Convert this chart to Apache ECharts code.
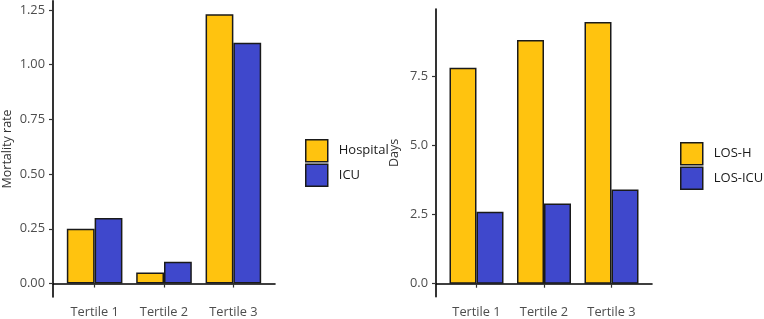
<!DOCTYPE html>
<html>
<head>
<meta charset="utf-8">
<script src="https://cdn.jsdelivr.net/npm/echarts@6/dist/echarts.min.js"></script>
<style>
  html, body { margin: 0; padding: 0; background: #fff; }
  #chart { width: 764px; height: 319px; }
</style>
</head>
<body>
<div id="chart"></div>
<script>
// data
const tertiles = ['Tertile 1', 'Tertile 2', 'Tertile 3']
const hospitalMortality = [0.25, 0.05, 1.23]
const icuMortality = [0.30, 0.10, 1.10]
const losHospital = [7.8, 8.8, 9.45]
const losIcu = [2.6, 2.9, 3.4]
const mortalityTicks = [0, 0.25, 0.5, 0.75, 1.0, 1.25]
const daysTicks = [0, 2.5, 5.0, 7.5]

const yellow = '#FFC30F'
const blue = '#3F48CC'
const edge = '#1a1a1a'
const font = 'Open Sans'

// put each value on its tertile position (1, 2, 3) of a value x axis
const pts = arr => arr.map((v, i) => [i + 1, v])

const xAxisBase = (gridIndex) => ({
    type: 'value',
    gridIndex: gridIndex,
    min: 0.4,
    max: 3.6,
    splitLine: { show: false },
    axisLine: { show: true, lineStyle: { color: '#000', width: 1.6 } },
    axisTick: { show: true, customValues: [1, 2, 3], length: 4, lineStyle: { color: '#333', width: 1.2 } },
    axisLabel: {
        customValues: [1, 2, 3],
        formatter: v => tertiles[Math.round(v) - 1],
        color: '#4d4d4d', fontSize: 12.8, fontFamily: font, margin: 9
    }
})

const yAxisBase = (gridIndex, min, max, ticks, digits, name, gap) => ({
    type: 'value',
    gridIndex: gridIndex,
    min: min,
    max: max,
    name: name,
    nameLocation: 'middle',
    nameGap: gap,
    nameTextStyle: { color: '#333', fontSize: 12.5, fontFamily: font },
    splitLine: { show: false },
    axisLine: { show: true, lineStyle: { color: '#000', width: 1.6 } },
    axisTick: { show: true, customValues: ticks, length: 4, lineStyle: { color: '#333', width: 1.2 } },
    axisLabel: {
        customValues: ticks,
        formatter: v => v.toFixed(digits),
        color: '#4d4d4d', fontSize: 12.8, fontFamily: font, margin: 8
    }
})

const barSeries = (name, data, color, idx, width) => ({
    name: name,
    type: 'bar',
    xAxisIndex: idx,
    yAxisIndex: idx,
    data: pts(data),
    barWidth: width,
    barGap: '0%',
    itemStyle: { color: color, borderColor: edge, borderWidth: 1.5 },
    emphasis: { disabled: true }
})

const legendBase = (names, left, top) => ({
    data: names,
    orient: 'vertical',
    left: left,
    top: top,
    icon: 'rect',
    itemWidth: 22,
    itemHeight: 22,
    itemGap: 1,
    selectedMode: false,
    itemStyle: { borderColor: edge, borderWidth: 1.5 },
    textStyle: { color: '#1a1a1a', fontSize: 13, fontFamily: font, padding: [0, 0, 0, 6] }
})

const chart = echarts.init(document.getElementById('chart'))
chart.setOption({
    animation: false,
    grid: [
        { left: 53, width: 222, top: 0.9, bottom: 20.5 },
        { left: 436, width: 216, top: 9, bottom: 22.2 }
    ],
    legend: [
        legendBase(['Hospital', 'ICU'], 300, 134),
        legendBase(['LOS-H', 'LOS-ICU'], 675, 137)
    ],
    xAxis: [xAxisBase(0), xAxisBase(1)],
    yAxis: [
        yAxisBase(0, -0.0615, 1.2915, mortalityTicks, 2, 'Mortality rate', 39),
        yAxisBase(1, -0.4725, 9.9225, daysTicks, 1, 'Days', 35)
    ],
    series: [
        barSeries('Hospital', hospitalMortality, yellow, 0, 27.8),
        barSeries('ICU', icuMortality, blue, 0, 27.8),
        barSeries('LOS-H', losHospital, yellow, 1, 27),
        barSeries('LOS-ICU', losIcu, blue, 1, 27)
    ]
})
</script>
</body>
</html>
